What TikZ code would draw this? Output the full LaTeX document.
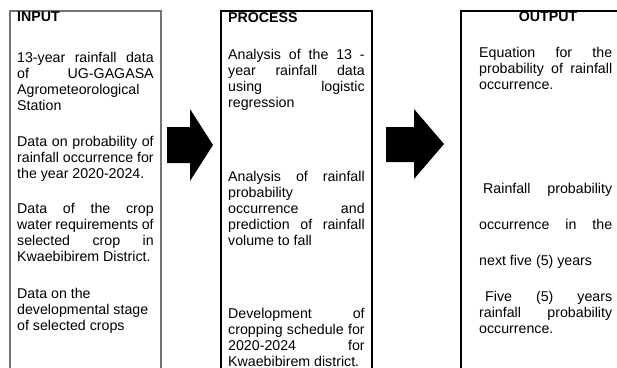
\documentclass[tikz,border=0pt]{standalone}
\usepackage{fontspec}
\setmainfont{Liberation Sans}
\begin{document}
\begin{tikzpicture}[x=1pt, y=-1pt,
    head/.style={anchor=base west, inner sep=0pt, font=\bfseries\fontsize{14.2}{16}\selectfont},
    txt/.style={anchor=base west, inner sep=0pt, text width=136.5pt, align=justify, font=\fontsize{14.2}{16}\selectfont}]
    \useasboundingbox (0,0) rectangle (617,367);
    \clip (0,0) rectangle (617,367);

    \draw[line width=2pt, black!55] (10,400) -- (10,11) -- (161,11) -- (161,400);
    \draw[line width=1.2pt] (221,400) -- (221,11) -- (372,11) -- (372,400);
    \draw[line width=1.3pt] (461,400) -- (461,11) -- (630,11);

    \fill (167,127) -- (190,127) -- (190,109) -- (213,145) -- (190,181) -- (190,163) -- (167,163) -- cycle;
    \fill (386,127) -- (414,127) -- (414,109) -- (444,144) -- (414,179) -- (414,162) -- (386,162) -- cycle;

    \node[head] (inhead) at (17,21.5) {INPUT};
    \node[txt] (in1) at (17,62) {13-year rainfall data\linebreak of UG-GAGASA\linebreak Agrometeorological\\Station};
    \node[txt] (in2) at (17,146) {Data on probability of\linebreak rainfall occurrence for\linebreak the year 2020-2024.};
    \node[txt] (in3) at (17,213) {Data of the crop\linebreak water requirements of\linebreak selected crop in\linebreak Kwaebibirem District.};
    \node[txt] (in4) at (17,298) {Data on the\\developmental stage\\of selected crops};

    \node[head] (prhead) at (228,22) {PROCESS};
    \node[txt] (pr1) at (228,59) {Analysis of the 13 -\linebreak year rainfall data\linebreak using logistic\linebreak regression};
    \node[txt] (pr2) at (228,181) {Analysis of rainfall\linebreak probability\\occurrence and\linebreak prediction of rainfall\linebreak volume to fall};
    \node[txt] (pr3) at (228,318) {Development of\linebreak cropping schedule for\linebreak 2020-2024 for\linebreak Kwaebibirem district.};

    \node[head, anchor=base] (outhead) at (548,21.5) {OUTPUT};
    \node[txt, text width=133pt] (out1) at (479,57) {Equation for the\linebreak probability of rainfall\linebreak occurrence.};
    \node[txt, text width=133pt, font=\fontsize{14.2}{36}\selectfont] (out2) at (479,193) {\hspace*{4pt}Rainfall probability\linebreak occurrence in the\linebreak next five (5) years};
    \node[txt, text width=133pt] (out3) at (479,301) {\hspace*{6pt}Five (5) years\linebreak rainfall probability\linebreak occurrence.};
\end{tikzpicture}
\end{document}
